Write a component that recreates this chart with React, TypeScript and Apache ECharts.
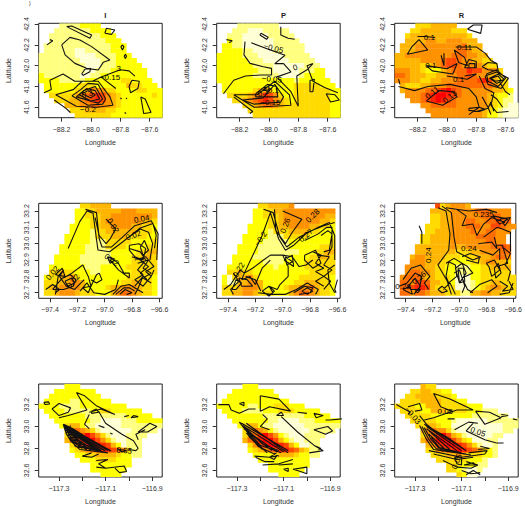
import React, { useEffect, useRef } from "react";
import * as echarts from "echarts";

const palette = ["#FFFFD5", "#FFFF80", "#FFFF00", "#FFDB00", "#FFB600", "#FF9200", "#FF6D00", "#FF4900", "#FF2400", "#FF0000"];
const font = "Liberation Sans";
const ink = "#333333";

const columnTitles = ["I", "P", "R"];
const xName = "Longitude";
const yName = "Latitude";

const ticksX1 = [-88.2, -88.0, -87.8, -87.6];
const ticksY1 = [41.6, 41.8, 42.0, 42.2, 42.4];
const ticksX2 = [-97.4, -97.2, -97.0, -96.8, -96.6];
const ticksY2 = [32.7, 32.8, 32.9, 33.0, 33.1, 33.2];
const ticksX3 = [-117.3, -117.2, -117.1, -117.0, -116.9];
const labelsX3 = [-117.3, -117.1, -116.9];
const ticksY3 = [32.6, 32.8, 33.0, 33.2];

const rangeX1 = [-88.356, -87.514];
const rangeY1 = [41.5, 42.407];
const rangeX2 = [-97.482, -96.58];
const rangeY2 = [32.666, 33.247];
const rangeX3 = [-117.387, -116.857];
const rangeY3 = [32.54, 33.3875];

const cellsA = [
"....11112222............",
"...11111112222..........",
"..1111111111222.........",
"..11111111111222........",
".1111111111111222.......",
".1111110011111222.......",
"111111100001111222......",
"1111111100001112222.....",
"11111111100011122222....",
"111111111001112222222...",
"211111110011222222222...",
"2222111112222222332222..",
".2222222333222222433222.",
".22222233455533222233222",
"..3333345678754322222232",
"...333445678754322222222",
".....4445566554322222222",
"......333444433222222222",
".......33333332222222222",
];
const cellsB = [
"....11111111............",
"...11100011111..........",
"..1110000011111.........",
"..21100000011111........",
".2211000000111111.......",
".2222110000111111.......",
"222221110000011111......",
"2222221110000011111.....",
"22222221111000000111....",
"222222221110000011122...",
"222222211111000012222...",
"2222222222222221222222..",
".2222222222222233333222.",
".22222234432222333333322",
"..3333456875322333333322",
"...334567875432333333322",
".....3345665433333333322",
"......333333333333333322",
".......33333333333333322",
];
const cellsC = [
"....33344444............",
"...33444444333..........",
"..3444444444443.........",
"..44445544555444........",
".4445555555556444.......",
".4445555555566544.......",
"445555555556665544......",
"4444455556776554433.....",
"44444334567765555433....",
"555443222456668775553...",
"665444334455667655443...",
"5554433445556666787433..",
".433344555666666666543..",
".4555566789765555554432.",
"..555678998765555543221.",
"...55678987655555543211.",
".....5566666555555432100",
"......555555555554321000",
".......55555555554221000",
];
const cellsD = [
"........334444..........",
".......2233444445554444.",
".......2233344555555554.",
".......2223345555555443.",
"......22223344555544332.",
"......22221334444443332.",
".....222221333444333322.",
".....222221113333322223.",
"....2222211113333222233.",
"....2222211111222223344.",
"...22222111111222233443.",
"...22222111111222233333.",
"..222222211122222333333.",
"..334332221122222233333.",
".2334453222222222333332.",
".3334455422222223344332.",
".3445555422223445554332.",
".3345554333222456654332.",
];
const cellsE = [
"........3344445.........",
".......2233445555555555.",
".......2233345555555544.",
".......2223345555555443.",
"......22223344555544332.",
"......22221333444433222.",
".....222221113333322222.",
".....222211111222222223.",
"....2222111111222222333.",
"....2222111111112223344.",
"...22221111111222233443.",
"...22222211112222333333.",
"..222222222122222333333.",
"..334332222222222233333.",
".2034453222222223333332.",
".2014455422222233444332.",
".3334555422223445564332.",
".3344554333222456654332.",
];
const cellsF = [
"........7345554.........",
".......4444555556665555.",
".......3344555555666655.",
".......3344555665566766.",
"......333445556665577655",
"......33444555565566555.",
".....33444455555666655..",
".....33444455555556655..",
"....4444444544555556676.",
"....4444444433344555566.",
"...45544443332334445665.",
"...55544433222233455443.",
"..555544332211122334444.",
"..566554332211122333333.",
".56665443332000223333333",
".66577644332000123344333",
".66788743333000123455433",
".66566544433311445544333",
];
const cellsG = [
".....222................",
"...22222222.............",
"..2222222222............",
".2222211222222..........",
"22221111222222222.......",
".2222111112233222222....",
"..22222221111111122222..",
"...222222211000011122222",
"....23442110000011111111",
".....356543100000011111.",
".....3567975310001111...",
".....467899753100111....",
"......35789987420111....",
"......23456788765311....",
".......2233444432211....",
"........2223333222......",
"..........22222222......",
"..........2222222.......",
"............2222........",
];
const cellsH = [
".....222................",
"...22222222.............",
"..2222222222............",
".2222222222222..........",
"22222211222333222.......",
".2222111122233322222....",
"..22222221111111122222..",
"...222222211000011122222",
"....23442110000001111111",
".....356542100000011111.",
".....3568975210001111...",
".....467899742100111....",
"......35789987420011....",
"......23456788764311....",
".......2222344432211....",
"........2222222222......",
"..........22222222......",
"..........2222222.......",
"............2222........",
];
const cellsI = [
".....433................",
"...33443322.............",
"..3344443332............",
".3333444433322..........",
"33332244433333222.......",
".3333224443333222111....",
"..33333222222221111111..",
"...333332221000000111111",
"....33443220000000000111",
".....456553100000000011.",
".....3568974310000011...",
".....467999753200011....",
"......45789987531001....",
"......33567898765321....",
".......3334454333221....",
"........3333332221......",
"..........33322211......",
"..........3321001.......",
"............3200........",
];

const contoursA = [
  [[-88.165,42.375],[-88.007,42.263],[-87.995,42.295],[-88.131,42.381],[-88.165,42.375]],
  [[-88.199,42.199],[-88.143,42.272],[-88.075,42.247],[-87.995,42.183],[-87.871,42.054],[-87.916,42.032],[-87.95,41.958],[-88.029,41.974],[-88.109,42.022],[-88.176,42.103],[-88.199,42.199]],
  [[-88.063,41.92],[-88.041,41.965],[-88.002,41.974],[-88.007,41.942],[-88.052,41.907],[-88.063,41.92]],
  [[-87.905,42.311],[-87.894,42.359],[-87.837,42.343],[-87.86,42.301],[-87.905,42.311]],
  [[-88.30,42.20],[-88.26,42.24],[-88.28,42.25]],
  [[-87.785,42.20],[-87.775,42.18],[-87.785,42.15],[-87.795,42.18],[-87.785,42.20]],
  [[-87.765,42.11],[-87.757,42.09],[-87.765,42.07],[-87.773,42.09],[-87.765,42.11]],
  [[-88.28,41.86],[-88.19,41.92],[-88.11,41.85],[-87.99,41.85],[-87.93,41.89],[-87.80,41.96],[-87.74,41.95],[-87.70,41.90]],
  [[-88.28,41.86],[-88.27,41.77],[-88.32,41.74]],
  [[-87.93,41.89],[-87.83,41.78]],
  [[-87.72,41.86],[-87.67,41.85],[-87.68,41.78],[-87.73,41.74],[-87.74,41.80],[-87.72,41.86]],
  [[-87.66,41.70],[-87.63,41.68],[-87.59,41.55],[-87.64,41.54],[-87.66,41.70]],
  [[-88.24,41.72],[-88.12,41.77],[-88.06,41.85],[-87.95,41.85],[-87.87,41.70],[-87.85,41.62],[-87.96,41.60],[-88.10,41.61],[-88.24,41.72]],
  [[-88.25,41.67],[-88.17,41.59],[-88.14,41.55]],
  [[-88.13,41.71],[-88.07,41.77],[-88.02,41.83],[-87.95,41.82],[-87.90,41.68],[-87.92,41.63],[-88.02,41.62],[-88.13,41.71]],
  [[-88.10,41.70],[-88.05,41.76],[-87.97,41.80],[-87.92,41.68],[-87.95,41.64],[-88.10,41.70]],
  [[-88.08,41.72],[-88.03,41.78],[-87.97,41.76],[-87.94,41.68],[-88.0,41.66],[-88.08,41.72]],
  [[-88.06,41.73],[-88.02,41.76],[-87.97,41.72],[-88.0,41.69],[-88.06,41.73]],
  [[-87.80,41.69],[-87.79,41.68]],
  [[-87.76,41.69],[-87.755,41.68]],
  [[-87.77,41.55],[-87.76,41.54]],
];
const contoursB = [
  [[-88.054,42.311],[-88.005,42.272],[-88.016,42.253],[-88.061,42.295],[-88.054,42.311]],
  [[-87.919,42.375],[-87.919,42.295],[-87.869,42.263],[-87.824,42.253]],
  [[-88.29,42.25],[-88.25,42.24],[-88.27,42.22]],
  [[-88.163,42.231],[-88.17,42.103],[-88.129,42.022],[-88.038,41.99],[-87.982,41.974],[-87.982,41.91],[-88.06,41.91]],
  [[-88.12,42.22],[-87.99,42.15],[-87.89,42.10],[-87.96,42.02],[-87.90,42.02],[-87.85,41.94],[-87.95,41.89]],
  [[-88.31,41.73],[-88.24,41.86],[-88.16,41.90],[-88.06,41.91]],
  [[-87.94,41.88],[-87.85,41.75],[-87.80,41.61]],
  [[-87.80,41.61],[-87.81,41.90],[-87.74,41.96],[-87.70,42.02],[-87.74,42.0],[-87.70,41.85],[-87.62,41.79],[-87.53,41.74]],
  [[-87.72,41.86],[-87.69,41.87],[-87.70,41.75],[-87.72,41.75],[-87.72,41.86]],
  [[-87.61,41.73],[-87.55,41.72],[-87.52,41.67],[-87.58,41.65],[-87.61,41.73]],
  [[-88.24,41.72],[-88.08,41.72],[-87.96,41.85],[-87.86,41.72],[-87.85,41.62],[-88.10,41.60],[-88.24,41.72]],
  [[-88.24,41.70],[-88.11,41.56],[-88.13,41.54]],
  [[-88.18,41.67],[-88.04,41.69],[-87.96,41.82],[-87.90,41.70],[-87.92,41.65],[-88.10,41.63],[-88.18,41.67]],
  [[-88.09,41.73],[-88.01,41.82],[-87.95,41.80],[-87.94,41.70],[-88.09,41.70],[-88.09,41.73]],
  [[-88.05,41.78],[-88.0,41.80],[-88.0,41.75],[-88.05,41.78]],
];
const contoursC = [
  [[-88.20,42.28],[-88.15,42.28],[-88.08,42.27]],
  [[-87.86,42.35],[-87.82,42.39],[-87.76,42.39],[-87.77,42.31],[-87.86,42.35]],
  [[-88.27,42.11],[-88.24,42.18],[-88.19,42.25],[-88.13,42.15],[-88.27,42.11]],
  [[-88.33,41.87],[-88.32,41.82]],
  [[-88.33,41.80],[-88.22,41.76],[-88.13,41.80],[-87.98,41.82],[-87.85,41.78],[-87.80,41.70],[-87.78,41.60],[-87.85,41.53]],
  [[-88.14,42.0],[-88.0,41.97],[-87.93,42.02],[-87.96,41.92],[-88.10,41.95],[-88.14,42.0]],
  [[-88.0,41.90],[-87.86,41.87],[-87.80,41.92],[-87.88,41.90]],
  [[-87.94,42.18],[-87.80,42.18],[-87.74,42.12],[-87.70,42.05],[-87.66,42.02]],
  [[-87.95,42.15],[-87.92,42.03],[-87.86,42.0],[-87.88,42.08],[-87.95,42.15]],
  [[-88.02,42.12],[-88.02,42.0],[-88.04,42.1]],
  [[-87.88,41.98],[-87.80,41.98],[-87.80,42.04],[-87.85,42.06],[-87.88,41.98]],
  [[-87.85,42.02],[-87.81,42.02],[-87.81,41.98],[-87.85,41.98],[-87.85,42.02]],
  [[-87.76,41.99],[-87.72,42.03],[-87.66,42.02],[-87.65,41.95],[-87.72,41.96],[-87.76,41.99]],
  [[-87.73,41.92],[-87.66,41.96],[-87.60,41.88],[-87.65,41.80],[-87.72,41.85],[-87.73,41.92]],
  [[-87.71,41.88],[-87.65,41.92],[-87.61,41.87],[-87.66,41.83],[-87.71,41.88]],
  [[-87.70,41.88],[-87.65,41.90],[-87.63,41.86],[-87.67,41.85],[-87.70,41.88]],
  [[-87.74,41.90],[-87.66,41.94],[-87.58,41.88],[-87.63,41.78],[-87.72,41.82],[-87.74,41.90]],
  [[-87.78,41.90],[-87.74,41.78],[-87.68,41.74],[-87.70,41.62],[-87.66,41.55],[-87.58,41.56]],
  [[-87.76,41.70],[-87.72,41.60],[-87.70,41.53]],
  [[-87.64,41.84],[-87.60,41.75],[-87.57,41.72]],
  [[-87.70,41.72],[-87.66,41.68],[-87.62,41.60]],
  [[-88.14,41.66],[-88.09,41.72],[-88.05,41.76],[-87.96,41.75],[-87.93,41.70],[-88.03,41.62],[-88.14,41.66]],
  [[-87.85,41.59],[-87.78,41.60],[-87.74,41.58],[-87.78,41.56],[-87.85,41.57],[-87.85,41.59]],
  [[-87.80,41.56],[-87.72,41.59],[-87.70,41.65],[-87.68,41.56]],
];
const contoursD = [
  [[-97.267,32.971],[-97.182,33.135],[-97.129,33.2],[-97.085,33.186],[-97.061,33.033],[-97.049,32.961],[-96.964,32.951],[-96.867,33.012],[-96.745,33.094],[-96.648,33.124],[-96.624,33.053],[-96.636,32.971]],
  [[-97.14,33.21],[-97.06,33.19],[-97.04,33.03],[-97.02,32.98],[-96.95,32.98],[-96.87,33.04],[-96.78,33.11],[-96.66,33.14],[-96.61,33.06],[-96.62,32.90]],
  [[-97.07,33.16],[-97.04,33.05],[-96.99,33.0],[-96.96,33.03],[-96.92,33.09],[-96.99,33.15]],
  [[-96.84,33.03],[-96.74,33.09],[-96.68,33.07],[-96.65,33.0],[-96.67,32.90]],
  [[-96.96,32.92],[-96.90,32.88],[-96.86,32.82],[-96.82,32.82],[-96.82,32.79],[-96.90,32.84],[-96.96,32.90],[-96.96,32.92]],
  [[-96.82,32.99],[-96.75,33.0],[-96.70,32.97],[-96.72,32.90],[-96.78,32.92],[-96.82,32.96],[-96.82,32.99]],
  [[-96.82,32.97],[-96.74,32.95],[-96.70,32.90],[-96.76,32.84],[-96.72,32.81],[-96.78,32.78],[-96.72,32.74],[-96.66,32.80]],
  [[-96.80,32.92],[-96.74,32.90],[-96.68,32.86],[-96.74,32.82],[-96.69,32.78]],
  [[-96.78,32.90],[-96.70,32.92],[-96.64,32.86],[-96.70,32.83],[-96.66,32.80],[-96.64,32.84]],
  [[-96.76,32.88],[-96.68,32.90],[-96.72,32.85],[-96.66,32.82],[-96.72,32.79],[-96.66,32.76]],
  [[-96.74,32.98],[-96.71,33.02],[-96.68,32.96],[-96.72,32.93],[-96.74,32.98]],
  [[-96.78,32.74],[-96.72,32.80],[-96.76,32.72],[-96.72,32.70]],
  [[-96.94,32.69],[-96.88,32.74],[-96.82,32.75],[-96.76,32.72],[-96.78,32.69]],
  [[-96.92,32.69],[-96.86,32.73],[-96.82,32.73],[-96.78,32.71]],
  [[-96.89,32.69],[-96.85,32.72],[-96.80,32.70],[-96.84,32.69]],
  [[-97.3,32.79],[-97.24,32.82],[-97.16,32.87],[-97.12,32.80],[-97.10,32.74],[-97.06,32.81],[-97.04,32.82],[-97.02,32.78],[-97.06,32.76],[-97.10,32.78]],
  [[-97.18,32.71],[-97.13,32.76],[-97.08,32.70],[-97.0,32.69],[-96.92,32.72],[-96.90,32.78]],
  [[-97.16,32.73],[-97.10,32.74],[-97.12,32.70],[-97.16,32.73]],
  [[-97.43,32.72],[-97.38,32.75],[-97.33,32.72],[-97.36,32.70]],
  [[-97.36,32.69],[-97.34,32.80],[-97.30,32.84],[-97.33,32.80],[-97.28,32.74],[-97.22,32.72],[-97.15,32.78]],
  [[-97.38,32.72],[-97.31,32.79],[-97.25,32.81],[-97.21,32.78],[-97.23,32.74],[-97.30,32.72],[-97.38,32.72]],
  [[-97.29,32.77],[-97.24,32.79],[-97.22,32.76],[-97.27,32.74],[-97.29,32.77]],
  [[-97.36,32.81],[-97.31,32.85],[-97.29,32.80],[-97.36,32.81]],
  [[-96.98,32.92],[-96.93,32.90],[-96.96,32.88],[-96.98,32.92]],
];
const contoursE = [
  [[-97.28,32.82],[-97.15,33.05],[-97.09,33.19],[-97.03,33.03],[-96.98,32.96],[-96.92,32.99],[-96.82,33.07],[-96.7,33.11],[-96.62,33.13]],
  [[-97.14,33.21],[-97.07,33.19],[-97.02,33.04],[-96.97,32.98],[-96.88,33.04],[-96.74,33.1],[-96.66,33.13],[-96.62,33.05],[-96.62,32.9]],
  [[-97.06,33.21],[-97.05,33.08],[-96.98,33.0],[-96.93,33.07],[-96.86,33.15],[-97.0,33.2]],
  [[-96.84,33.02],[-96.74,33.06],[-96.68,33.10],[-96.64,33.1],[-96.64,32.98],[-96.67,32.93]],
  [[-96.72,33.05],[-96.67,33.08],[-96.64,33.06],[-96.66,32.96],[-96.70,32.95]],
  [[-97.28,32.82],[-97.22,32.85],[-97.14,32.9],[-97.09,32.93],[-97.04,32.93],[-97.0,32.93],[-96.93,32.92],[-96.88,32.86],[-96.83,32.87],[-96.78,32.90]],
  [[-97.0,32.93],[-96.96,32.86],[-96.96,32.8],[-97.02,32.75],[-97.04,32.72],[-97.1,32.74],[-97.07,32.7]],
  [[-97.28,32.82],[-97.3,32.78],[-97.24,32.8],[-97.2,32.75],[-97.15,32.85],[-97.09,32.9]],
  [[-97.15,32.71],[-97.1,32.74],[-97.06,32.71],[-97.1,32.68],[-97.15,32.71]],
  [[-96.98,32.92],[-96.93,32.89],[-96.97,32.87],[-96.98,32.92]],
  [[-96.84,32.93],[-96.76,32.96],[-96.72,32.88],[-96.78,32.85],[-96.84,32.9],[-96.84,32.93]],
  [[-96.78,32.95],[-96.72,32.93],[-96.76,32.88],[-96.7,32.85],[-96.76,32.83],[-96.7,32.8],[-96.76,32.77],[-96.7,32.74]],
  [[-96.74,32.93],[-96.66,32.92],[-96.7,32.87],[-96.64,32.84],[-96.7,32.8],[-96.65,32.77],[-96.7,32.72]],
  [[-96.62,32.87],[-96.67,32.84],[-96.66,32.76],[-96.62,32.7]],
  [[-96.6,32.78],[-96.62,32.72],[-96.61,32.70]],
  [[-96.98,32.69],[-96.9,32.72],[-96.82,32.76],[-96.74,32.72],[-96.76,32.69]],
  [[-96.92,32.7],[-96.84,32.74],[-96.78,32.73],[-96.8,32.7],[-96.88,32.69]],
  [[-96.86,32.71],[-96.82,32.73],[-96.78,32.71],[-96.82,32.69],[-96.86,32.71]],
  [[-97.18,32.7],[-97.08,32.69],[-96.98,32.69]],
  [[-97.43,32.72],[-97.38,32.75],[-97.31,32.84],[-97.28,32.82]],
  [[-97.36,32.82],[-97.32,32.77],[-97.38,32.72],[-97.36,32.69]],
  [[-97.37,32.72],[-97.34,32.78],[-97.3,32.76],[-97.34,32.72],[-97.37,32.72]],
  [[-97.27,32.8],[-97.2,32.78],[-97.16,32.71]],
  [[-97.32,32.79],[-97.26,32.78],[-97.22,32.74],[-97.3,32.74],[-97.32,32.79]],
  [[-96.99,32.9],[-96.93,32.93],[-96.92,32.86],[-96.99,32.9]],
];
const contoursF = [
  [[-97.16,33.22],[-97.1,33.2],[-97.07,33.06],[-97.08,32.96],[-97.16,32.87],[-97.09,32.77],[-97.06,32.69]],
  [[-97.13,33.23],[-97.06,33.19],[-97.04,33.04],[-97.02,32.95],[-96.9,32.9],[-96.84,32.92]],
  [[-97.1,33.22],[-96.93,33.2],[-96.8,33.21],[-96.72,33.19]],
  [[-97.02,33.21],[-96.95,33.17],[-96.98,33.11],[-96.9,33.12],[-96.87,33.05],[-96.82,33.12],[-96.76,33.16],[-96.66,33.13]],
  [[-96.82,33.04],[-96.72,33.1],[-96.68,33.09],[-96.62,33.07],[-96.62,32.95]],
  [[-96.75,33.17],[-96.7,33.12],[-96.64,33.15],[-96.75,33.17]],
  [[-96.7,33.15],[-96.66,33.11],[-96.62,33.16],[-96.7,33.15]],
  [[-96.86,33.0],[-96.76,33.01],[-96.72,32.97],[-96.74,33.04]],
  [[-97.3,33.11],[-97.28,33.07],[-97.28,33.0]],
  [[-97.42,32.78],[-97.36,32.85],[-97.29,32.87],[-97.22,32.8],[-97.26,32.76],[-97.23,32.72]],
  [[-97.45,32.74],[-97.39,32.76],[-97.33,32.82],[-97.28,32.8],[-97.3,32.72],[-97.36,32.72]],
  [[-97.42,32.72],[-97.37,32.74],[-97.35,32.69],[-97.42,32.72]],
  [[-97.38,32.74],[-97.33,32.79],[-97.29,32.74],[-97.34,32.69]],
  [[-97.33,32.71],[-97.29,32.72],[-97.31,32.7],[-97.33,32.71]],
  [[-97.16,32.72],[-97.13,32.74],[-97.09,32.71],[-97.13,32.7],[-97.16,32.72]],
  [[-97.04,32.82],[-97.0,32.84],[-96.96,32.74],[-96.98,32.7]],
  [[-97.1,32.8],[-97.08,32.89],[-97.03,32.87],[-97.02,32.8],[-97.08,32.76],[-97.1,32.8]],
  [[-97.1,32.88],[-97.04,32.91],[-96.94,32.86],[-96.9,32.82],[-96.98,32.79],[-96.94,32.72],[-96.9,32.7]],
  [[-97.03,32.85],[-96.98,32.88],[-96.95,32.82],[-97.0,32.76],[-97.03,32.85]],
  [[-97.01,32.85],[-96.97,32.85],[-96.96,32.77],[-97.0,32.76],[-97.01,32.85]],
  [[-96.98,32.92],[-96.92,32.94],[-96.85,32.92],[-96.86,32.88],[-96.95,32.9]],
  [[-96.85,32.96],[-96.75,32.93],[-96.7,32.97],[-96.7,32.9]],
  [[-96.8,32.88],[-96.74,32.9],[-96.7,32.84],[-96.76,32.8],[-96.78,32.86],[-96.8,32.88]],
  [[-96.74,32.85],[-96.71,32.88],[-96.69,32.82],[-96.73,32.79],[-96.74,32.85]],
  [[-96.68,32.98],[-96.62,32.94],[-96.66,32.87],[-96.62,32.83],[-96.64,32.77]],
  [[-96.73,32.99],[-96.68,32.99],[-96.64,32.88],[-96.72,32.86]],
  [[-96.7,32.77],[-96.64,32.74],[-96.68,32.71],[-96.6,32.72],[-96.63,32.77]],
  [[-96.92,32.7],[-96.85,32.75],[-96.76,32.78],[-96.72,32.74],[-96.79,32.7]],
  [[-96.7,32.69],[-96.63,32.7],[-96.6,32.76]],
  [[-97.12,32.72],[-97.07,32.76],[-97.03,32.69]],
];
const contoursG = [
  [[-117.365,33.22],[-117.345,33.225],[-117.34,33.205],[-117.36,33.2],[-117.365,33.22]],
  [[-117.33,33.16],[-117.3,33.21],[-117.25,33.17],[-117.26,33.13],[-117.3,33.1],[-117.33,33.16]],
  [[-117.225,33.31],[-117.19,33.28],[-117.14,33.19],[-117.09,33.14],[-117.06,33.11],[-117.12,33.16],[-117.17,33.13]],
  [[-117.225,33.31],[-117.2,33.22],[-117.18,33.15],[-117.26,33.1],[-117.3,33.08]],
  [[-117.16,33.14],[-117.14,33.16],[-117.13,33.13],[-117.16,33.12],[-117.16,33.14]],
  [[-117.17,33.11],[-117.19,33.02],[-117.17,32.98]],
  [[-117.13,33.14],[-117.1,33.03],[-117.03,32.93],[-116.98,32.87],[-116.96,32.8]],
  [[-116.93,32.97],[-116.97,32.93],[-116.96,32.88]],
  [[-116.98,33.1],[-116.96,33.09],[-116.99,33.08],[-116.98,33.1]],
  [[-117.02,33.09],[-117.0,33.1]],
  [[-116.91,33.03],[-116.88,33.0],[-116.92,32.95],[-116.96,32.95],[-116.91,33.03]],
  [[-117.05,32.8],[-117.03,32.77],[-117.01,32.78],[-117.04,32.79]],
  [[-117.0,32.79],[-116.97,32.78],[-116.96,32.8]],
  [[-117.16,32.76],[-117.2,32.73],[-117.16,32.72],[-117.13,32.75]],
  [[-117.14,32.69],[-117.09,32.7],[-117.13,32.66],[-117.1,32.62],[-117.14,32.63]],
  [[-117.1,32.62],[-117.02,32.64],[-117.01,32.59],[-117.04,32.58],[-117.06,32.62]],
  [[-117.25,33.01],[-117.27,32.94],[-117.25,32.87],[-117.21,32.79],[-117.09,32.76]],
  [[-117.282,33.021],[-117.076,32.777]],
  [[-117.282,33.011],[-117.09,32.782]],
  [[-117.28,33.0],[-117.105,32.785]],
  [[-117.278,32.985],[-117.12,32.785]],
  [[-117.272,32.97],[-117.135,32.785]],
  [[-117.268,32.95],[-117.15,32.785]],
  [[-117.262,32.925],[-117.165,32.785]],
  [[-117.255,32.9],[-117.18,32.785]],
  [[-117.248,32.875],[-117.2,32.8]],
  [[-117.282,33.021],[-117.268,32.93],[-117.24,32.85]],
  [[-117.27,32.98],[-117.10,32.775]],
  [[-117.265,32.96],[-117.12,32.775]],
  [[-117.28,33.02],[-117.24,32.98],[-117.15,32.86],[-117.08,32.78]],
  [[-117.275,33.0],[-117.26,32.94],[-117.23,32.82],[-117.11,32.77]],
  [[-117.27,33.0],[-117.25,32.94],[-117.22,32.83],[-117.12,32.78]],
  [[-117.265,33.0],[-117.245,32.94],[-117.21,32.84],[-117.13,32.79]],
  [[-117.26,32.98],[-117.235,32.92],[-117.2,32.84],[-117.14,32.8]],
  [[-117.13,33.01],[-117.105,32.99]],
  [[-117.08,32.94],[-117.07,32.93]],
];
const contoursH = [
  [[-117.38,33.2],[-117.335,33.2],[-117.325,33.15],[-117.29,33.12],[-117.25,33.16],[-117.22,33.16]],
  [[-117.29,33.21],[-117.27,33.22],[-117.27,33.19],[-117.29,33.21]],
  [[-117.2,33.28],[-117.2,33.14],[-117.16,33.18],[-117.07,33.14],[-117.12,33.25],[-117.2,33.28]],
  [[-117.13,33.1],[-117.11,33.13],[-117.1,33.1],[-117.13,33.1]],
  [[-117.19,33.11],[-117.17,33.07],[-117.2,33.0],[-117.16,32.97]],
  [[-117.11,33.09],[-117.04,32.95],[-116.97,32.83],[-116.93,32.78],[-116.99,32.76]],
  [[-116.97,32.97],[-116.91,33.0],[-116.89,32.96],[-116.92,32.93],[-116.97,32.97]],
  [[-116.85,33.07],[-116.9,33.06],[-116.92,33.06]],
  [[-116.97,33.12],[-116.93,33.1],[-116.96,33.08],[-116.97,33.12]],
  [[-117.04,33.13],[-117.0,33.12]],
  [[-117.26,33.03],[-117.11,32.8],[-117.08,32.76]],
  [[-117.27,33.0],[-117.1,32.77]],
  [[-117.27,32.98],[-117.13,32.77]],
  [[-117.26,32.96],[-117.15,32.78]],
  [[-117.26,32.94],[-117.17,32.76]],
  [[-117.25,32.91],[-117.19,32.79]],
  [[-117.29,33.04],[-117.2,32.93],[-117.09,32.79]],
  [[-117.29,33.04],[-117.26,32.96],[-117.21,32.82],[-117.12,32.73]],
  [[-117.28,33.03],[-117.08,32.78]],
  [[-117.275,33.01],[-117.24,32.92],[-117.2,32.83],[-117.11,32.76]],
  [[-117.27,33.0],[-117.23,32.92],[-117.19,32.84],[-117.12,32.78]],
  [[-117.225,32.73],[-117.16,32.72],[-117.13,32.76]],
  [[-117.22,32.72],[-117.18,32.68],[-117.14,32.68]],
  [[-117.16,32.72],[-117.13,32.73],[-117.14,32.7],[-117.16,32.72]],
  [[-117.19,32.65],[-117.12,32.66],[-117.06,32.7]],
  [[-117.12,32.65],[-117.06,32.66]],
  [[-117.1,32.61],[-117.08,32.62],[-117.08,32.59],[-117.1,32.61]],
  [[-117.06,32.61],[-117.0,32.63],[-117.0,32.57],[-117.04,32.6],[-117.06,32.61]],
  [[-116.96,32.82],[-116.94,32.8],[-116.95,32.79]],
];
const contoursI = [
  [[-117.38,33.2],[-117.32,33.13],[-117.33,33.11]],
  [[-117.33,33.18],[-117.28,33.21],[-117.27,33.15],[-117.3,33.14]],
  [[-117.2,33.22],[-117.22,33.3],[-117.15,33.25],[-117.05,33.15],[-117.12,33.15],[-117.16,33.12]],
  [[-117.2,33.22],[-117.19,33.18],[-117.14,33.14],[-117.22,33.08],[-117.26,33.06]],
  [[-117.04,33.14],[-116.98,33.13],[-116.96,33.11],[-116.93,33.08],[-117.0,33.02],[-117.04,33.14]],
  [[-116.93,33.11],[-116.9,33.1],[-116.93,33.09]],
  [[-116.88,33.07],[-116.86,33.06]],
  [[-117.05,33.03],[-117.08,32.96],[-117.0,32.88],[-116.95,32.85],[-116.92,32.85]],
  [[-117.13,32.97],[-117.07,33.04],[-117.03,33.03]],
  [[-117.28,33.1],[-117.25,33.02],[-117.22,32.97],[-117.16,32.9],[-117.08,32.78]],
  [[-117.26,33.02],[-117.08,32.78]],
  [[-117.25,33.0],[-117.1,32.78]],
  [[-117.25,32.98],[-117.12,32.78]],
  [[-117.24,32.96],[-117.14,32.77]],
  [[-117.24,32.93],[-117.16,32.77]],
  [[-117.23,32.9],[-117.18,32.77]],
  [[-117.28,33.01],[-117.25,32.88],[-117.22,32.79],[-117.06,32.74]],
  [[-117.27,33.0],[-117.24,32.88],[-117.21,32.8],[-117.08,32.75]],
  [[-117.26,32.99],[-117.23,32.88],[-117.2,32.81],[-117.1,32.76]],
  [[-117.24,32.78],[-117.1,32.72],[-117.0,32.75],[-116.99,32.78],[-117.07,32.76]],
  [[-117.22,32.75],[-117.12,32.7],[-117.05,32.72]],
  [[-117.18,32.69],[-117.12,32.63],[-117.06,32.62],[-117.03,32.65],[-117.08,32.68]],
  [[-117.13,32.72],[-117.12,32.66],[-117.1,32.65],[-117.1,32.72],[-117.13,32.72]],
  [[-117.09,32.65],[-117.05,32.67],[-117.04,32.65],[-117.09,32.65]],
  [[-117.1,32.6],[-117.06,32.57],[-117.02,32.58]],
  [[-117.08,32.56],[-117.05,32.6],[-117.02,32.56]],
  [[-117.02,32.82],[-116.98,32.8],[-117.03,32.79]],
  [[-117.16,33.07],[-117.13,33.07]],
];

const labelsA = [
  { text: "\u22120.15", lon: -87.87, lat: 41.888, rot: 0 },
  { text: "\u22120.2", lon: -88.02, lat: 41.58, rot: 0 },
  { text: "\u22120.3", lon: -88.04, lat: 41.72, rot: 15 },
  { text: "3", lon: -87.81, lat: 41.974, rot: 0 },
];
const labelsB = [
  { text: "\u22120.05", lon: -87.97, lat: 42.165, rot: -15 },
  { text: "\u22120.05", lon: -87.98, lat: 41.87, rot: -5 },
  { text: "0.1", lon: -87.97, lat: 41.76, rot: 0 },
  { text: "0.2", lon: -88.04, lat: 41.74, rot: 20 },
  { text: "\u22120.15", lon: -87.99, lat: 41.65, rot: 0 },
  { text: "0", lon: -87.82, lat: 41.98, rot: 20 },
];
const labelsC = [
  { text: "0.1", lon: -88.12, lat: 42.27, rot: 0 },
  { text: "0.11", lon: -87.88, lat: 42.17, rot: 0 },
  { text: "0.1", lon: -88.11, lat: 42.0, rot: 0 },
  { text: "0.1", lon: -87.92, lat: 41.87, rot: 0 },
  { text: "0.11", lon: -88.1, lat: 41.74, rot: 40 },
  { text: "0.13", lon: -87.98, lat: 41.7, rot: 40 },
];
const labelsD = [
  { text: "0.02", lon: -96.94, lat: 33.11, rot: -60 },
  { text: "0.04", lon: -96.73, lat: 33.15, rot: 10 },
  { text: "0.02", lon: -96.79, lat: 33.05, rot: 20 },
  { text: "0.02", lon: -96.95, lat: 32.9, rot: -35 },
  { text: "0.02", lon: -97.38, lat: 32.82, rot: 50 },
  { text: "0.02", lon: -97.23, lat: 32.77, rot: 50 },
];
const labelsE = [
  { text: "\u22120.2", lon: -97.16, lat: 33.03, rot: 55 },
  { text: "0.26", lon: -96.98, lat: 33.11, rot: 70 },
  { text: "0.28", lon: -96.78, lat: 33.17, rot: 45 },
  { text: "0.27", lon: -96.83, lat: 33.05, rot: 40 },
  { text: "0.22", lon: -97.32, lat: 32.84, rot: 60 },
];
const labelsF = [
  { text: "0.235", lon: -96.82, lat: 33.18, rot: 0 },
  { text: "0.24", lon: -97.23, lat: 32.93, rot: 90 },
  { text: "0.24", lon: -96.93, lat: 32.97, rot: 0 },
  { text: "0.26", lon: -97.3, lat: 32.79, rot: 40 },
  { text: "0.28", lon: -97.42, lat: 32.74, rot: 0 },
];
const labelsG = [
  { text: "0.05", lon: -117.02, lat: 32.78, rot: -5 },
];
const labelsH: { text: string; lon: number; lat: number; rot: number }[] = [];
const labelsI = [
  { text: "\u22120.03", lon: -117.31, lat: 33.1, rot: -50 },
  { text: "0.05", lon: -117.17, lat: 33.14, rot: 0 },
  { text: "0.05", lon: -117.03, lat: 32.95, rot: -20 },
  { text: "0.05", lon: -117.12, lat: 32.68, rot: 70 },
];

const panels = [
  { cells: cellsA, contours: contoursA, labels: labelsA, rx: rangeX1, ry: rangeY1, tx: ticksX1, lx: ticksX1, ty: ticksY1, left: 38.7, top: 23.3, h: 94.4, rows: 19 },
  { cells: cellsB, contours: contoursB, labels: labelsB, rx: rangeX1, ry: rangeY1, tx: ticksX1, lx: ticksX1, ty: ticksY1, left: 216.7, top: 23.3, h: 94.4, rows: 19 },
  { cells: cellsC, contours: contoursC, labels: labelsC, rx: rangeX1, ry: rangeY1, tx: ticksX1, lx: ticksX1, ty: ticksY1, left: 394.7, top: 23.3, h: 94.4, rows: 19 },
  { cells: cellsD, contours: contoursD, labels: labelsD, rx: rangeX2, ry: rangeY2, tx: ticksX2, lx: ticksX2, ty: ticksY2, left: 38.7, top: 203.3, h: 95, rows: 18.6 },
  { cells: cellsE, contours: contoursE, labels: labelsE, rx: rangeX2, ry: rangeY2, tx: ticksX2, lx: ticksX2, ty: ticksY2, left: 216.7, top: 203.3, h: 95, rows: 18.6 },
  { cells: cellsF, contours: contoursF, labels: labelsF, rx: rangeX2, ry: rangeY2, tx: ticksX2, lx: ticksX2, ty: ticksY2, left: 394.7, top: 203.3, h: 95, rows: 18.6 },
  { cells: cellsG, contours: contoursG, labels: labelsG, rx: rangeX3, ry: rangeY3, tx: ticksX3, lx: labelsX3, ty: ticksY3, left: 38.7, top: 384, h: 95, rows: 19 },
  { cells: cellsH, contours: contoursH, labels: labelsH, rx: rangeX3, ry: rangeY3, tx: ticksX3, lx: labelsX3, ty: ticksY3, left: 216.7, top: 384, h: 95, rows: 19 },
  { cells: cellsI, contours: contoursI, labels: labelsI, rx: rangeX3, ry: rangeY3, tx: ticksX3, lx: labelsX3, ty: ticksY3, left: 394.7, top: 384, h: 95, rows: 19 },
];

const COLS = 24;

function buildOption() {
  const grid: any[] = [];
  const xAxis: any[] = [];
  const yAxis: any[] = [];
  const series: any[] = [];
  panels.forEach((p, i) => {
    grid.push({ left: p.left, top: p.top, width: 123.5, height: p.h, show: true, borderColor: "#222", borderWidth: 1, backgroundColor: "#fff" });
    const dx = p.rx[1] - p.rx[0];
    const dy = p.ry[1] - p.ry[0];
    const fmt = (v: number) => v.toFixed(1).replace("-", "\u2212");
    xAxis.push({
      type: "value", gridIndex: i, min: p.rx[0], max: p.rx[1], position: "bottom",
      name: xName, nameLocation: "middle", nameGap: 21,
      nameTextStyle: { fontFamily: font, fontSize: 7, color: ink },
      axisLine: { show: false }, splitLine: { show: false },
      axisTick: { show: true, length: 4, customValues: p.tx, lineStyle: { color: ink, width: 1 } },
      axisLabel: { show: true, customValues: p.lx, margin: 8, formatter: fmt, fontFamily: font, fontSize: 7, color: ink, showMinLabel: true, showMaxLabel: true, hideOverlap: false },
    });
    yAxis.push({
      type: "value", gridIndex: i, min: p.ry[0], max: p.ry[1], position: "left",
      name: yName, nameLocation: "middle", nameGap: 27,
      nameTextStyle: { fontFamily: font, fontSize: 7, color: ink },
      axisLine: { show: false }, splitLine: { show: false },
      axisTick: { show: true, length: 4, customValues: p.ty, lineStyle: { color: ink, width: 1 } },
      axisLabel: { show: true, customValues: p.ty, rotate: 90, margin: 9, formatter: (v: number) => v.toFixed(1), fontFamily: font, fontSize: 7, color: ink, showMinLabel: true, showMaxLabel: true, hideOverlap: false },
    });
    const cw = dx / COLS;
    const ch = dy / p.rows;
    const cellData: number[][] = [];
    p.cells.forEach((row, r) => {
      row.slice(0, COLS).split("").forEach((c, k) => {
        if (c >= "0" && c <= "9") cellData.push([p.rx[0] + (k + 0.5) * cw, p.ry[1] - (r + 0.5) * ch, Number(c)]);
      });
    });
    series.push({
      type: "custom", xAxisIndex: i, yAxisIndex: i, silent: true, clip: true, z: 1,
      encode: { x: 0, y: 1 }, data: cellData,
      renderItem: (_: any, api: any) => {
        const lon = api.value(0), lat = api.value(1);
        const a = api.coord([lon - cw / 2, lat + ch / 2]);
        const b = api.coord([lon + cw / 2, lat - ch / 2]);
        return { type: "rect", shape: { x: a[0], y: a[1], width: b[0] - a[0] + 0.4, height: b[1] - a[1] + 0.4 }, style: { fill: palette[api.value(2)] } };
      },
    });
    const lineData: any[] = [];
    p.contours.forEach((c) => {
      c.forEach((pt) => lineData.push(pt));
      lineData.push(["-", "-"]);
    });
    series.push({
      type: "line", xAxisIndex: i, yAxisIndex: i, data: lineData, showSymbol: false, silent: true, z: 3, clip: true,
      connectNulls: false, lineStyle: { color: "#111", width: 1.1 },
    });
    const labs = p.labels;
    series.push({
      type: "custom", xAxisIndex: i, yAxisIndex: i, silent: true, clip: false, z: 4,
      encode: { x: 0, y: 1 }, data: labs.map((l) => [l.lon, l.lat]),
      renderItem: (params: any, api: any) => {
        const l = labs[params.dataIndex];
        const pos = api.coord([l.lon, l.lat]);
        return {
          type: "text", x: pos[0], y: pos[1], rotation: (l.rot * Math.PI) / 180,
          style: { text: l.text, fontFamily: font, fontSize: 8, fill: "#000", align: "center", verticalAlign: "middle" },
        };
      },
    });
  });
  const title = columnTitles.map((t, i) => ({
    text: t, left: panels[i].left + 61.7, top: 6, textAlign: "center",
    textStyle: { fontFamily: font, fontSize: 7.5, fontWeight: "bold", color: "#222" },
  }));
  return {
    animation: false, backgroundColor: "#fff", title, grid, xAxis, yAxis, series,
    graphic: [{ type: "text", x: 29, y: 0, style: { text: ")", fontFamily: font, fontSize: 5, fill: "#222" } }],
  };
}

export default function App() {
  const ref = useRef<HTMLDivElement>(null);
  useEffect(() => {
    document.body.style.margin = "0";
    const chart = echarts.init(ref.current!, undefined, { renderer: "svg" });
    chart.setOption(buildOption() as any);
    return () => chart.dispose();
  }, []);
  return <div ref={ref} style={{ width: 525, height: 506 }} />;
}
